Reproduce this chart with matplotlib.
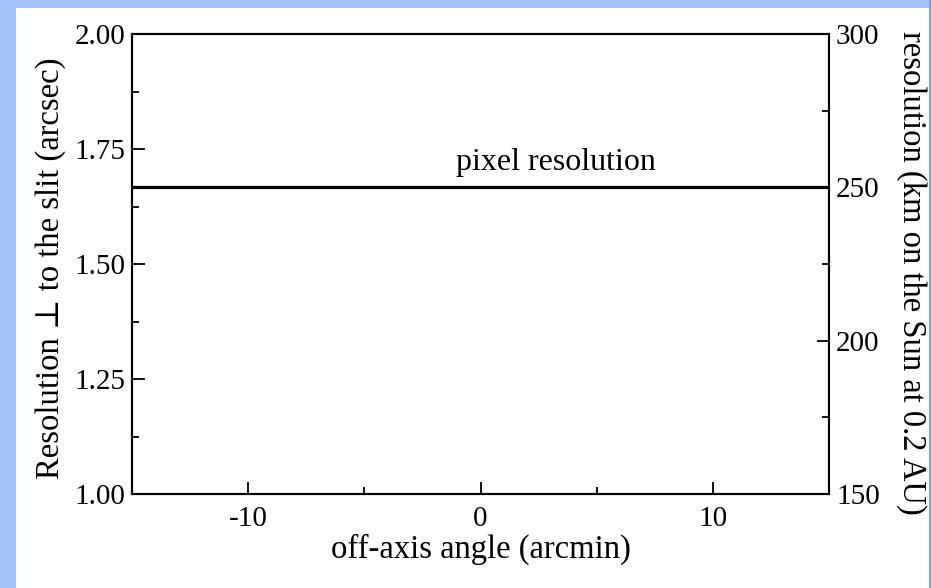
import matplotlib.pyplot as plt
from matplotlib.patches import Rectangle
from matplotlib.ticker import MultipleLocator

# data
angle = [-15, 15]            # off-axis angle (arcmin)
pixel_res_km = [250, 250]    # pixel resolution (km on the Sun at 0.2 AU)
km_per_arcsec = 150.0        # 1 arcsec = 150 km at 0.2 AU

plt.rcParams['font.family'] = ['Liberation Serif', 'DejaVu Serif']

W, H = 931, 588
fig = plt.figure(figsize=(W / 100, H / 100), dpi=100)
fig.patch.set_facecolor('#a3c2f9')
# darker strip on the right edge, white panel in the middle
fig.patches.append(Rectangle((929 / W, 0), 2 / W, 1, transform=fig.transFigure,
                             facecolor='#6aa2f8', edgecolor='none', zorder=-2))
fig.patches.append(Rectangle((16 / W, 0), (929 - 16) / W, (H - 8) / H,
                             transform=fig.transFigure, facecolor='white',
                             edgecolor='none', zorder=-1))

ax = fig.add_axes([132 / W, 1 - 494 / H, (829 - 132) / W, (494 - 34) / H])
ax.set_facecolor('none')
ax2 = ax.twinx()

res_arcsec = [v / km_per_arcsec for v in pixel_res_km]
ax.plot(angle, res_arcsec, color='black', lw=2.3, solid_capstyle='butt')
ax.text(3.25, 1.72, 'pixel resolution', ha='center', va='center', fontsize=23)

ax.set_xlim(-15, 15)
ax.set_ylim(1.0, 2.0)
ax2.set_ylim(150, 300)

ax.xaxis.set_major_locator(MultipleLocator(10))
ax.xaxis.set_minor_locator(MultipleLocator(5))
ax.yaxis.set_major_locator(MultipleLocator(0.25))
ax.yaxis.set_minor_locator(MultipleLocator(0.125))
ax2.yaxis.set_major_locator(MultipleLocator(50))
ax2.yaxis.set_minor_locator(MultipleLocator(25))
ax.yaxis.set_major_formatter(plt.FuncFormatter(lambda v, p: '%.2f' % v))
ax.xaxis.set_major_formatter(plt.FuncFormatter(lambda v, p: '%d' % v))

ax.tick_params(which='both', direction='in', top=False, right=False, labelsize=21, width=1.3)
ax.tick_params(which='major', length=9)
ax.tick_params(which='minor', length=5)
ax.tick_params(axis='x', which='both', pad=9)
ax.tick_params(axis='y', which='both', pad=5)
ax2.tick_params(which='both', direction='in', labelsize=21, width=1.3, pad=5)
ax2.tick_params(which='major', length=9)
ax2.tick_params(which='minor', length=5)
for a in (ax, ax2):
    for s in a.spines.values():
        s.set_linewidth(1.5)

ax.set_xlabel('off-axis angle (arcmin)', fontsize=23.5)
ax.set_ylabel('Resolution ⊥ to the slit (arcsec)', fontsize=23.5)
ax2.set_ylabel('resolution (km on the Sun at 0.2 AU)', fontsize=23.5, rotation=270)
ax.xaxis.label.set_va('center')
ax.yaxis.label.set_va('center')
ax2.yaxis.label.set_va('center')
ax.xaxis.set_label_coords(0.5, (494 - 549) / 460)
ax.yaxis.set_label_coords((51 - 132) / 697, 0.49)
ax2.yaxis.set_label_coords((911 - 132) / 697, 0.48)

fig.savefig('out.png', dpi=100, facecolor=fig.get_facecolor())
